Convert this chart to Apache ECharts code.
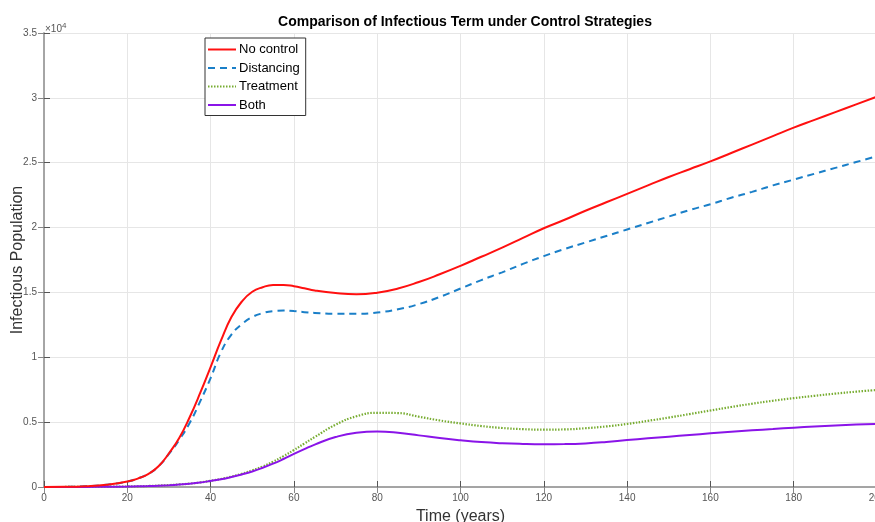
<!DOCTYPE html>
<html>
<head>
<meta charset="utf-8">
<script src="https://cdn.jsdelivr.net/npm/echarts@6/dist/echarts.min.js"></script>
<style>html,body{margin:0;padding:0;background:#fff;}#c{width:875px;height:522px;}</style>
</head>
<body>
<div id="c"></div>
<script>
var years = [0,5,10,15,20,22.5,25,27.5,30,32.5,35,37.5,40,42.5,45,47.5,50,52.5,55,57.5,60,62.5,65,70,75,80,85,90,95,100,105,110,115,120,125,130,135,140,145,150,155,160,165,170,175,180,185,190,195,200];
var noControl = [0,10,60,180,420,650,1000,1600,2600,3800,5400,7250,9250,11300,13100,14300,15050,15400,15570,15580,15480,15320,15150,14950,14860,14980,15300,15800,16400,17050,17750,18450,19200,19950,20600,21300,21950,22600,23250,23900,24500,25100,25750,26400,27050,27700,28300,28900,29500,30100];
var distancing = [0,10,60,180,420,650,1000,1600,2550,3650,4950,6600,8400,10400,11750,12550,13100,13400,13560,13600,13560,13480,13420,13350,13350,13450,13700,14100,14650,15300,15950,16550,17200,17800,18350,18850,19350,19850,20350,20850,21350,21800,22300,22750,23250,23700,24150,24600,25050,25500];
var treatment = [0,2,8,20,40,55,80,110,150,200,260,350,480,620,800,1020,1280,1580,1950,2380,2850,3350,3850,4800,5450,5720,5700,5420,5130,4900,4700,4550,4460,4420,4440,4530,4670,4860,5100,5350,5620,5900,6170,6420,6650,6850,7030,7200,7350,7480];
var both = [0,2,8,18,35,50,70,100,140,190,250,340,470,600,770,970,1200,1480,1800,2160,2550,2920,3270,3850,4180,4270,4180,3980,3770,3600,3460,3370,3320,3300,3310,3360,3470,3620,3750,3880,4010,4140,4260,4370,4470,4570,4660,4740,4810,4860];
var xTicks = [0,20,40,60,80,100,120,140,160,180,200];
var yTicks = [0,0.5,1,1.5,2,2.5,3,3.5];

function pairs(v){ return years.map(function(t,i){ return [t, v[i]]; }); }
var font = 'Liberation Sans, Arial, Helvetica, sans-serif';
var chart = echarts.init(document.getElementById('c'));
var axisGray = '#a0a0a0';
chart.setOption({
  animation: false,
  backgroundColor: '#fff',
  title: {
    text: 'Comparison of Infectious Term under Control Strategies',
    left: 460, top: 10, textAlign: 'center',
    textStyle: {fontFamily: font, fontSize: 14, fontWeight: 'bold', color: '#000'}
  },
  legend: {
    orient: 'vertical', left: 205, top: 38,
    itemWidth: 28, itemHeight: 14, itemGap: 5.5,
    padding: [5, 6, 4, 2],
    backgroundColor: '#fff', borderColor: '#333', borderWidth: 1,
    itemStyle: {opacity: 0},
    textStyle: {fontFamily: font, fontSize: 13, color: '#000', padding: [0,0,0,-2]},
    data: ['No control','Distancing','Treatment','Both']
  },
  graphic: [{
    type: 'text', left: 45, top: 22,
    style: {
      text: '{a|×10}{b|4}',
      rich: {
        a: {fontFamily: font, fontSize: 10, fill: '#555'},
        b: {fontFamily: font, fontSize: 8, fill: '#555', verticalAlign: 'top', padding: [0,0,6,0]}
      }
    }
  }],
  grid: {left: 44, top: 33, width: 833, height: 454, containLabel: false, outerBoundsMode: 'none'},
  xAxis: [{
    type: 'value', min: 0, max: 200, interval: 20,
    name: 'Time (years)', nameLocation: 'middle', nameGap: 22,
    nameTextStyle: {fontFamily: font, fontSize: 16, color: '#333'},
    axisLine: {show: true, lineStyle: {color: axisGray, width: 1.5}},
    axisTick: {show: true, inside: true, length: 6, lineStyle: {color: '#555'}},
    axisLabel: {fontFamily: font, fontSize: 10, color: '#555', margin: 6,
      formatter: function(v){ return xTicks.indexOf(v) >= 0 ? String(v) : ''; }},
    splitLine: {show: true, lineStyle: {color: '#e6e6e6', width: 1}}
  }, {
    type: 'value', position: 'top', min: 0, max: 200, interval: 20,
    axisLine: {show: true, lineStyle: {color: axisGray, width: 1.5}},
    axisTick: {show: true, inside: true, length: 6, lineStyle: {color: '#888'}},
    axisLabel: {show: false}, splitLine: {show: false}
  }],
  yAxis: [{
    type: 'value', min: 0, max: 35000, interval: 5000,
    name: 'Infectious Population', nameLocation: 'middle', nameGap: 18, nameMoveOverlap: false,
    nameTextStyle: {fontFamily: font, fontSize: 16, color: '#333'},
    axisLine: {show: true, lineStyle: {color: axisGray, width: 1.5}},
    axisTick: {show: true, inside: true, length: 6, lineStyle: {color: '#555'}},
    axisLabel: {fontFamily: font, fontSize: 10, color: '#555', margin: 7,
      formatter: function(v){ var t = v/10000; return yTicks.indexOf(t) >= 0 ? String(t) : ''; }},
    splitLine: {show: true, lineStyle: {color: '#e6e6e6', width: 1}}
  }, {
    type: 'value', position: 'right', min: 0, max: 35000, interval: 5000,
    axisLine: {show: true, lineStyle: {color: axisGray, width: 1.5}},
    axisTick: {show: true, inside: true, length: 6, lineStyle: {color: '#888'}},
    axisLabel: {show: false}, splitLine: {show: false}
  }],
  series: [
    {name: 'No control', type: 'line', smooth: 0.5, symbol: 'none', data: pairs(noControl),
      lineStyle: {color: '#ff1010', width: 2}, itemStyle: {color: '#ff1010'}, z: 4},
    {name: 'Distancing', type: 'line', smooth: 0.5, symbol: 'none', data: pairs(distancing),
      lineStyle: {color: '#1a7fc8', width: 2, type: [7, 5]}, itemStyle: {color: '#1a7fc8'}, z: 3},
    {name: 'Treatment', type: 'line', smooth: 0.5, symbol: 'none', data: pairs(treatment),
      lineStyle: {color: '#77ac30', width: 2.2, type: [1.5, 1.5]}, itemStyle: {color: '#77ac30'}, z: 2},
    {name: 'Both', type: 'line', smooth: 0.5, symbol: 'none', data: pairs(both),
      lineStyle: {color: '#8a14e8', width: 2}, itemStyle: {color: '#8a14e8'}, z: 3}
  ]
});
</script>
</body>
</html>
